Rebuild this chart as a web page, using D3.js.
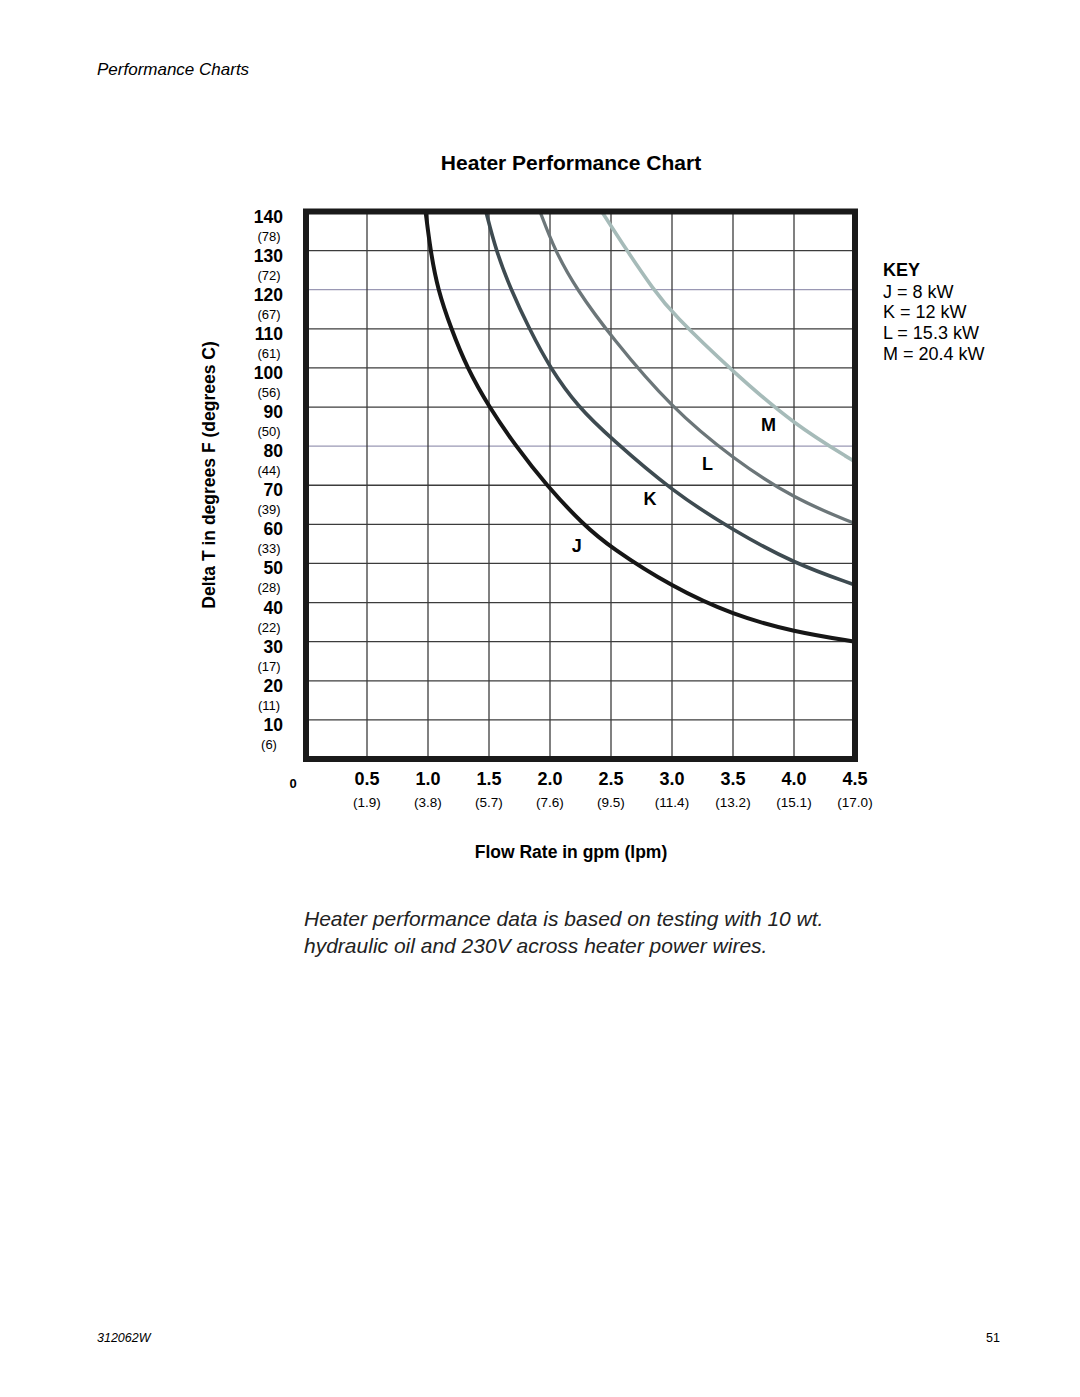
<!DOCTYPE html>
<html>
<head>
<meta charset="utf-8">
<script src="https://cdn.jsdelivr.net/npm/d3@7"></script>
<style>
  body { margin: 0; background: #fff; }
  svg { font-family: "Liberation Sans", Arial, Helvetica, sans-serif; }
</style>
</head>
<body>
<svg width="1080" height="1397"></svg>
<script>
// tick values and labels
var yTicks = [140, 130, 120, 110, 100, 90, 80, 70, 60, 50, 40, 30, 20, 10];
var yCelsius = ["(78)", "(72)", "(67)", "(61)", "(56)", "(50)", "(44)", "(39)", "(33)", "(28)", "(22)", "(17)", "(11)", "(6)"];
var xTicks = [0.5, 1.0, 1.5, 2.0, 2.5, 3.0, 3.5, 4.0, 4.5];
var xLpm = ["(1.9)", "(3.8)", "(5.7)", "(7.6)", "(9.5)", "(11.4)", "(13.2)", "(15.1)", "(17.0)"];

// curves: [gpm, delta T F]
var curveJ = [[0.98,140],[1.02,130],[1.08,120],[1.19,110],[1.32,100],[1.5,90],[1.72,80],[1.97,70],[2.27,60],[2.5,54],[3.0,44],[3.5,36.8],[4.0,32.5],[4.5,30]];
var curveK = [[1.475,140],[1.557,130],[1.68,120],[1.83,110],[2.0,100],[2.23,90],[2.5,82],[3.0,68.5],[3.5,58.5],[4.0,50],[4.5,44.5]];
var curveL = [[1.918,140],[2.04,130],[2.22,120],[2.5,108],[3.0,89.6],[3.5,76.8],[4.0,66.5],[4.5,60.2]];
var curveM = [[2.424,140],[2.63,130],[2.85,120],[3.0,114],[3.5,99],[4.0,85.5],[4.5,76]];

var curveNames = ["J", "K", "L", "M"];
var keyLines = ["J = 8 kW", "K = 12 kW", "L = 15.3 kW", "M = 20.4 kW"];

var svg = d3.select('svg');

var x = d3.scaleLinear().domain([0, 4.5]).range([306, 855]);
var y = d3.scaleLinear().domain([0, 140]).range([759, 211.5]);

// page header / footer
svg.append('text').attr('x', 97).attr('y', 75)
    .style('font-size', '17px').style('font-style', 'italic')
    .text('Performance Charts');
svg.append('text').attr('x', 97).attr('y', 1342)
    .style('font-size', '12.5px').style('font-style', 'italic')
    .text('312062W');
svg.append('text').attr('x', 1000).attr('y', 1342).attr('text-anchor', 'end')
    .style('font-size', '12.5px')
    .text('51');

// title
svg.append('text').attr('x', 571).attr('y', 169.5).attr('text-anchor', 'middle')
    .style('font-size', '21px').style('font-weight', 'bold')
    .text('Heater Performance Chart');

// grid
var grid = svg.append('g');
grid.selectAll('.hgrid')
    .data(yTicks.filter(function(d) { return d < 140; }))
    .enter().append('line')
    .attr('x1', x(0)).attr('x2', x(4.5))
    .attr('y1', function(d) { return y(d); })
    .attr('y2', function(d) { return y(d); })
    .attr('stroke', function(d) { return (d == 120 || d == 80) ? '#9a98b4' : '#3c3c3c'; })
    .attr('stroke-width', 1.3);
grid.selectAll('.vgrid')
    .data(xTicks.filter(function(d) { return d < 4.5; }))
    .enter().append('line')
    .attr('y1', y(0)).attr('y2', y(140))
    .attr('x1', function(d) { return x(d); })
    .attr('x2', function(d) { return x(d); })
    .attr('stroke', '#3c3c3c')
    .attr('stroke-width', 1.3);

// curves
var line = d3.line()
    .x(function(d) { return x(d[0]); })
    .y(function(d) { return y(d[1]); })
    .curve(d3.curveBasis);

var curves = [curveJ, curveK, curveL, curveM];
var colors = ['#161616', '#3e4b51', '#6c7679', '#a6bbb9'];
var widths = [4, 3.6, 3.3, 3.6];

svg.selectAll('.curve')
    .data(curves)
    .enter().append('path')
    .attr('d', line)
    .attr('fill', 'none')
    .attr('stroke', function(d, i) { return colors[i]; })
    .attr('stroke-width', function(d, i) { return widths[i]; });

// frame
svg.append('rect')
    .attr('x', x(0)).attr('y', y(140))
    .attr('width', x(4.5) - x(0)).attr('height', y(0) - y(140))
    .attr('fill', 'none').attr('stroke', '#1a1a1a').attr('stroke-width', 6);

// curve letters (placed in data units, baseline)
var letterPos = [[2.22, 53], [2.82, 65], [3.29, 74], [3.79, 84]];
svg.selectAll('.letter')
    .data(curveNames)
    .enter().append('text')
    .attr('x', function(d, i) { return x(letterPos[i][0]); })
    .attr('y', function(d, i) { return y(letterPos[i][1]); })
    .attr('text-anchor', 'middle')
    .style('font-size', '18px').style('font-weight', 'bold')
    .text(function(d) { return d; });

// y axis labels
svg.selectAll('.ylab')
    .data(yTicks)
    .enter().append('text')
    .attr('x', 283)
    .attr('y', function(d) { return y(d) + 11; })
    .attr('text-anchor', 'end')
    .style('font-size', '17.5px').style('font-weight', 'bold')
    .text(function(d) { return d; });
svg.selectAll('.ylabc')
    .data(yCelsius)
    .enter().append('text')
    .attr('x', 269)
    .attr('y', function(d, i) { return y(yTicks[i]) + 29; })
    .attr('text-anchor', 'middle')
    .style('font-size', '13px')
    .text(function(d) { return d; });

// x axis labels
svg.append('text').attr('x', 293).attr('y', 788).attr('text-anchor', 'middle')
    .style('font-size', '13px').style('font-weight', 'bold').text('0');
svg.selectAll('.xlab')
    .data(xTicks)
    .enter().append('text')
    .attr('x', function(d) { return x(d); })
    .attr('y', 785)
    .attr('text-anchor', 'middle')
    .style('font-size', '18px').style('font-weight', 'bold')
    .text(function(d) { return d.toFixed(1); });
svg.selectAll('.xlabc')
    .data(xLpm)
    .enter().append('text')
    .attr('x', function(d, i) { return x(xTicks[i]); })
    .attr('y', 807)
    .attr('text-anchor', 'middle')
    .style('font-size', '13.5px')
    .text(function(d) { return d; });

// axis titles
svg.append('text').attr('x', 571).attr('y', 858).attr('text-anchor', 'middle')
    .style('font-size', '17.5px').style('font-weight', 'bold')
    .text('Flow Rate in gpm (lpm)');
svg.append('text')
    .attr('transform', 'translate(215,475) rotate(-90)')
    .attr('text-anchor', 'middle')
    .style('font-size', '17.5px').style('font-weight', 'bold')
    .text('Delta T in degrees F (degrees C)');

// key
svg.append('text').attr('x', 883).attr('y', 275.5)
    .style('font-size', '18px').style('font-weight', 'bold').text('KEY');
svg.selectAll('.key')
    .data(keyLines)
    .enter().append('text')
    .attr('x', 883)
    .attr('y', function(d, i) { return 297.5 + i * 20.7; })
    .style('font-size', '18px')
    .text(function(d) { return d; });

// caption
var cap = svg.append('text').attr('x', 304)
    .style('font-size', '21px').style('font-style', 'italic').attr('fill', '#222');
cap.append('tspan').attr('x', 304).attr('y', 925.5)
    .text('Heater performance data is based on testing with 10 wt.');
cap.append('tspan').attr('x', 304).attr('y', 952.5)
    .text('hydraulic oil and 230V across heater power wires.');
</script>
</body>
</html>
